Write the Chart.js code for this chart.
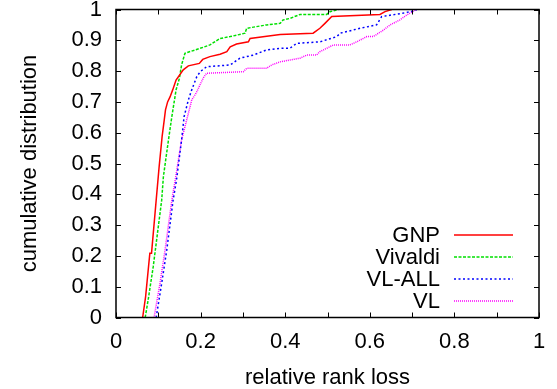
<!DOCTYPE html>
<html>
<head>
<meta charset="utf-8">
<script src="https://cdn.jsdelivr.net/npm/chart.js@4/dist/chart.umd.min.js"></script>
<style>
  html, body { margin: 0; padding: 0; background: #fff; }
  #wrap { width: 557px; height: 389px; }
</style>
</head>
<body>
<div id="wrap"><canvas id="cdf" width="557" height="389"></canvas></div>
<script>
// CDF of relative rank loss for each scheme
const seriesNames = ["GNP", "Vivaldi", "VL-ALL", "VL"]

const gnpX = [0.063, 0.070, 0.080, 0.084, 0.095, 0.102, 0.109, 0.114, 0.117, 0.122, 0.128, 0.134, 0.142, 0.159, 0.171, 0.197, 0.205, 0.222, 0.246, 0.262, 0.270, 0.285, 0.313, 0.317, 0.352, 0.388, 0.466, 0.482, 0.494, 0.510, 0.624, 0.636, 0.652]
const gnpY = [0, 0.068, 0.209, 0.209, 0.381, 0.490, 0.587, 0.641, 0.674, 0.700, 0.717, 0.739, 0.771, 0.804, 0.817, 0.825, 0.838, 0.847, 0.855, 0.863, 0.879, 0.888, 0.895, 0.906, 0.912, 0.919, 0.923, 0.939, 0.955, 0.977, 0.984, 0.993, 1.0]

const vivaldiX = [0.069, 0.076, 0.088, 0.108, 0.112, 0.124, 0.132, 0.142, 0.150, 0.155, 0.163, 0.199, 0.222, 0.246, 0.270, 0.305, 0.309, 0.356, 0.388, 0.395, 0.411, 0.435, 0.498, 0.506, 0.526]
const vivaldiY = [0, 0.057, 0.165, 0.381, 0.457, 0.576, 0.652, 0.739, 0.777, 0.820, 0.858, 0.874, 0.885, 0.906, 0.912, 0.923, 0.939, 0.950, 0.955, 0.966, 0.971, 0.984, 0.984, 0.993, 1.0]

const vlAllX = [0.095, 0.108, 0.120, 0.135, 0.143, 0.155, 0.161, 0.171, 0.179, 0.191, 0.199, 0.214, 0.270, 0.293, 0.325, 0.356, 0.388, 0.411, 0.427, 0.482, 0.522, 0.530, 0.577, 0.616, 0.628, 0.678, 0.702, 0.711]
const vlAllY = [0, 0.111, 0.219, 0.381, 0.446, 0.576, 0.652, 0.706, 0.739, 0.782, 0.798, 0.814, 0.820, 0.842, 0.852, 0.869, 0.874, 0.874, 0.890, 0.895, 0.912, 0.923, 0.939, 0.950, 0.977, 0.988, 0.995, 1.0]

const vlX = [0.090, 0.104, 0.116, 0.132, 0.140, 0.155, 0.167, 0.179, 0.190, 0.206, 0.214, 0.301, 0.309, 0.356, 0.368, 0.388, 0.435, 0.451, 0.474, 0.482, 0.514, 0.553, 0.569, 0.593, 0.608, 0.632, 0.648, 0.671, 0.687, 0.703, 0.711]
const vlY = [0, 0.111, 0.219, 0.381, 0.446, 0.576, 0.641, 0.706, 0.730, 0.777, 0.793, 0.798, 0.809, 0.809, 0.820, 0.830, 0.842, 0.852, 0.852, 0.863, 0.885, 0.885, 0.895, 0.912, 0.912, 0.933, 0.950, 0.966, 0.982, 0.995, 1.0]

const FONT = "'Liberation Sans', Arial, Helvetica, sans-serif"
const FONT_SIZE = 22

const toPoints = (xs, ys) => xs.map((x, i) => ({ x: x, y: ys[i] }))

const lineSet = (label, xs, ys, color, dash) => ({
    label: label,
    data: toPoints(xs, ys),
    borderColor: color,
    backgroundColor: color,
    borderWidth: 1.5,
    borderDash: dash,
    showLine: true,
    pointRadius: 0,
    tension: 0
})

const fmt = (v) => {
    const r = Math.round(v * 10) / 10
    return r === 0 ? "0" : r === 1 ? "1" : r.toFixed(1)
}

// gnuplot-style frame with inward ticks on all four sides
const framePlugin = {
    id: "frame",
    afterDatasetsDraw(chart) {
        const { ctx, chartArea: a, scales } = chart
        const tl = 5
        ctx.save()
        ctx.strokeStyle = "#000"
        ctx.lineWidth = 1.5
        ctx.strokeRect(a.left, a.top, a.right - a.left, a.bottom - a.top)
        ctx.lineWidth = 1
        ctx.beginPath()
        scales.x.ticks.forEach((t) => {
            const px = Math.round(scales.x.getPixelForValue(t.value)) + 0.5
            ctx.moveTo(px, a.bottom); ctx.lineTo(px, a.bottom - tl)
            ctx.moveTo(px, a.top); ctx.lineTo(px, a.top + tl)
        })
        scales.y.ticks.forEach((t) => {
            const py = Math.round(scales.y.getPixelForValue(t.value)) + 0.5
            ctx.moveTo(a.left, py); ctx.lineTo(a.left + tl, py)
            ctx.moveTo(a.right, py); ctx.lineTo(a.right - tl, py)
        })
        ctx.stroke()
        ctx.restore()
    }
}

// key in the lower right: label right-aligned, sample line after it
const keyPlugin = {
    id: "key",
    afterDatasetsDraw(chart) {
        const { ctx, chartArea: a } = chart
        const textRight = a.left + 324
        const lineStart = a.left + 338
        const lineEnd = a.left + 397
        ctx.save()
        ctx.font = FONT_SIZE + "px " + FONT
        ctx.textAlign = "right"
        ctx.textBaseline = "middle"
        chart.data.datasets.forEach((ds, i) => {
            const y = a.bottom - 82.5 + i * 22
            ctx.fillStyle = "#000"
            ctx.fillText(ds.label, textRight, y + 1)
            ctx.strokeStyle = ds.borderColor
            ctx.lineWidth = ds.borderWidth
            ctx.setLineDash(ds.borderDash)
            ctx.beginPath()
            ctx.moveTo(lineStart, y)
            ctx.lineTo(lineEnd, y)
            ctx.stroke()
        })
        ctx.restore()
    }
}

new Chart(document.getElementById("cdf"), {
    type: "scatter",
    data: {
        datasets: [
            lineSet(seriesNames[0], gnpX, gnpY, "#ff0000", []),
            lineSet(seriesNames[1], vivaldiX, vivaldiY, "#00e000", [3, 1.5]),
            lineSet(seriesNames[2], vlAllX, vlAllY, "#0000ff", [2, 2.5]),
            lineSet(seriesNames[3], vlX, vlY, "#ff00ff", [1, 1])
        ]
    },
    options: {
        responsive: false,
        animation: false,
        layout: { padding: { left: 0, top: 9.5, right: 18, bottom: 0 } },
        plugins: {
            legend: { display: false },
            tooltip: { enabled: false }
        },
        scales: {
            x: {
                type: "linear",
                min: 0,
                max: 1,
                grid: { display: false, drawTicks: false },
                border: { display: false },
                ticks: {
                    stepSize: 0.1,
                    padding: 11,
                    color: "#000",
                    font: { family: FONT, size: FONT_SIZE },
                    maxRotation: 0,
                    autoSkip: false,
                    callback: (v) => (Math.round(v * 10) % 2 === 0 ? fmt(v) : "")
                },
                title: {
                    display: true,
                    text: "relative rank loss",
                    color: "#000",
                    font: { family: FONT, size: FONT_SIZE },
                    padding: { top: 0, bottom: -2 }
                },
                afterFit: (scale) => {
                    scale.height = 389 - 317.5
                    scale.paddingLeft = 0
                    scale.paddingRight = 0
                }
            },
            y: {
                type: "linear",
                min: 0,
                max: 1,
                grid: { display: false, drawTicks: false },
                border: { display: false },
                ticks: {
                    stepSize: 0.1,
                    padding: 14,
                    color: "#000",
                    font: { family: FONT, size: FONT_SIZE },
                    autoSkip: false,
                    callback: (v) => fmt(v)
                },
                title: {
                    display: true,
                    text: "cumulative distribution",
                    color: "#000",
                    font: { family: FONT, size: FONT_SIZE },
                    padding: { top: 17, bottom: 0 }
                },
                afterFit: (scale) => {
                    scale.width = 116
                    scale.paddingTop = 0
                    scale.paddingBottom = 0
                }
            }
        }
    },
    plugins: [framePlugin, keyPlugin]
})
</script>
</body>
</html>
